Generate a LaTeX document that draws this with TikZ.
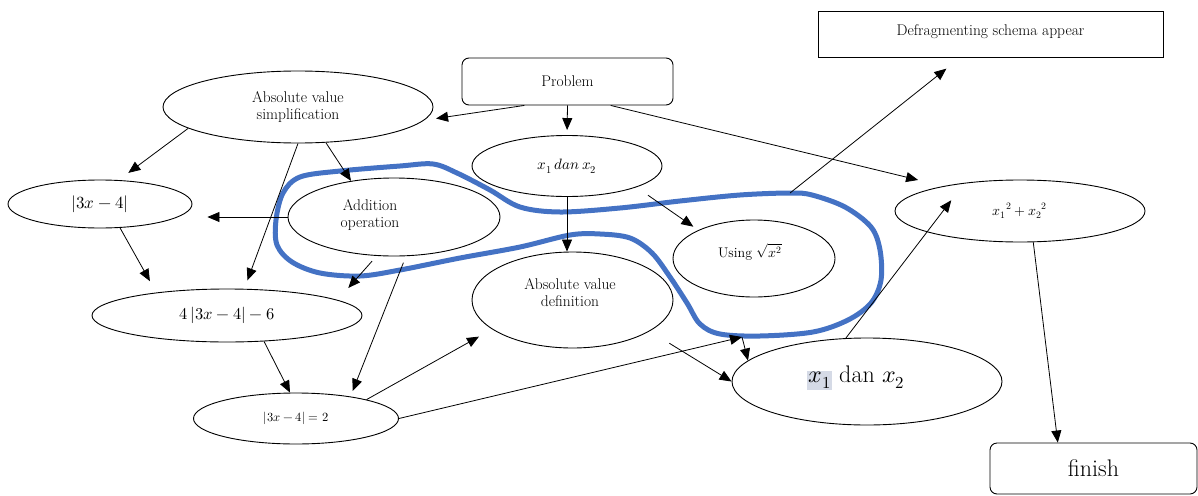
\documentclass[tikz,border=0pt]{standalone}
\usepackage{unicode-math}
\usetikzlibrary{arrows.meta,shapes.geometric}
\definecolor{schemablue}{HTML}{4472C4}
\definecolor{hlgray}{HTML}{D5DAE6}
\tikzset{
	oval/.style={draw,ellipse,inner sep=0pt,line width=0.9pt,align=center,font=\fontsize{15.5}{17}\selectfont},
	box/.style={draw,rectangle,inner sep=0pt,line width=0.9pt,align=center,font=\fontsize{15.5}{17}\selectfont},
	rbox/.style={box,rounded corners=7pt},
	txt/.style={align=center,inner sep=0pt,font=\fontsize{15.5}{17}\selectfont},
	schema/.style={line width=5pt,draw=schemablue,line cap=round,line join=round}
}

\begin{document}
\begin{tikzpicture}[x=1pt,y=-1pt,>={Triangle[length=12pt,width=10pt]},line width=0.8pt]
	\useasboundingbox (0,0) rectangle (1198,495);
	\node[box,minimum width=345pt,minimum height=46pt,text depth=8pt] (defrag) at (990.5,34) {Defragmenting schema appear};
	\node[rbox,minimum width=211pt,minimum height=47pt] (prob) at (567.5,81.5) {Problem};
	\node[oval,minimum width=270pt,minimum height=72pt] (absimp) at (298,107) {Absolute value\\simplification};
	\node[oval,minimum width=184pt,minimum height=48pt,font=\fontsize{17}{20}\selectfont] (abs34) at (100,204) {$|3x-4|$};
	\node[oval,minimum width=212pt,minimum height=78pt] (addop) at (394,217) {};
	\node[txt] (addoptext) at (370,215) {Addition\\operation};
	\node[oval,minimum width=190pt,minimum height=61pt,font=\fontsize{15}{17}\selectfont] (xtop) at (567,166) {$x_1\,dan\,x_2$};
	\node[oval,minimum width=162pt,minimum height=77pt] (using) at (754,258.5) {};
	\node[txt,font=\fontsize{14}{17}\selectfont] (usingtext) at (750,252) {Using $\sqrt{x^2}$};
	\node[oval,minimum width=201pt,minimum height=96pt] (absdef) at (572.5,300) {};
	\node[txt] (absdeftext) at (570,293) {Absolute value\\definition};
	\node[oval,minimum width=250pt,minimum height=62pt,font=\fontsize{14}{17}\selectfont] (xsq) at (1020,211) {$x_1{}^2+x_2{}^2$};
	\node[oval,minimum width=270pt,minimum height=53pt,font=\fontsize{16.5}{20}\selectfont] (four) at (227,315.5) {$4\,|3x-4|-6$};
	\node[oval,minimum width=205pt,minimum height=51pt,font=\fontsize{12.5}{15}\selectfont] (eq2) at (296,418.5) {$|3x-4|=2$};
	\node[oval,minimum width=270pt,minimum height=87pt] (xbig) at (867,381.5) {};
	\node[txt,font=\fontsize{24}{28}\selectfont] (xbigtext) at (856,378)
		{{\setlength{\fboxsep}{1pt}\colorbox{hlgray}{$x_1$}} dan $x_2$};
	\node[rbox,minimum width=207pt,minimum height=51pt,font=\fontsize{24}{28}\selectfont] (fin) at (1093.5,468.5) {finish};

	% the defragmented schema
	\draw[schema] plot[smooth cycle,tension=0.55] coordinates {
		(300,177) (340,171) (400,166) (433,164) (457,173) (490,190) (520,207) (560,212)
		(620,208) (680,201) (740,195) (790,193) (812,195) (845,207) (871,227) (880,250)
		(881,280) (871,303) (848,320) (813,332) (760,336) (720,334) (700,324) (687,303)
		(670,277) (652,253) (630,238) (600,234) (570,235) (520,247) (460,258) (400,270)
		(360,276) (320,273) (292,262) (277,245) (276,220) (283,193)};
	\coordinate (looptop) at (790,193);
	\coordinate (loopbot) at (742,337);

	\draw[->,shorten >=12pt] (prob.209) -- (absimp.-6);
	\draw[->,shorten >=5pt] (prob.south) -- (xtop.north);
	\draw[->,shorten >=26pt] (prob.-29) -- (xsq.162);
	\draw[->,shorten >=12pt] (absimp.191) -- (abs34.52);
	\draw[->] (absimp.-52) -- (addop.140);
	\draw[->,shorten >=9pt] (absimp.south) -- (four.57);
	\draw[->,shorten >=15pt] (addop.west) -- (addop.west -| abs34.east);
	\draw[->,shorten <=7pt,shorten >=16pt] (addop.-114) -- (four.8);
	\draw[->,shorten <=7pt,shorten >=6pt] (addop.-73) -- (eq2.22);
	\draw[->,shorten >=13pt] (abs34.-50) -- (four.162);
	\draw[->] (four.-35) -- (eq2.103);
	\draw[->,shorten >=15pt] (eq2.15) -- (absdef.200);
	\draw[->] (eq2.east) -- (loopbot);
	\draw[->] (loopbot) -- (xbig.170);
	\draw[->,shorten <=23pt] (absdef.-22) -- (xbig.west);
	\draw[->] (xtop.south) -- (xtop.south |- absdef.north);
	\draw[->,shorten <=14pt,shorten >=6pt] (xtop.-17) -- (using.153);
	\draw[->,shorten >=22pt] (xbig.116) -- (xsq.153);
	\draw[->] (xsq.-67) -- (fin.144);
	\draw[->,shorten >=18pt] (looptop) -- (defrag.-142);
\end{tikzpicture}
\end{document}
